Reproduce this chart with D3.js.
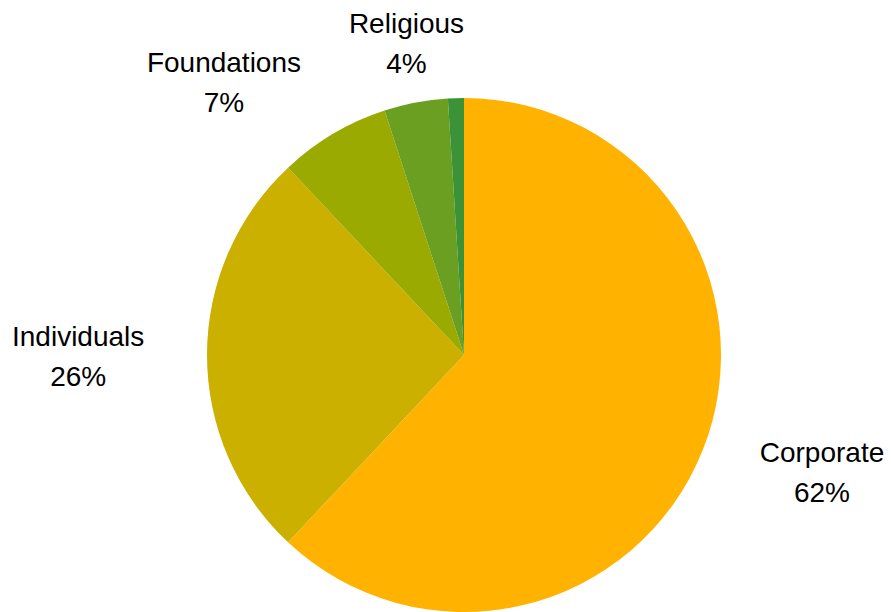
<!DOCTYPE html>
<html>
<head>
<meta charset="utf-8">
<script src="https://cdn.jsdelivr.net/npm/d3@7"></script>
<style>
html,body{margin:0;padding:0;background:#fff;}
svg{display:block;}
</style>
</head>
<body>
<svg id="chart" width="891" height="612"></svg>
<script>
const categories = ["Corporate", "Individuals", "Foundations", "Religious", "Other"];
const values = [62, 26, 7, 4, 1];
const percentLabels = ["62%", "26%", "7%", "4%", ""];
const colors = ["#FFB300", "#CCB000", "#9BAA00", "#6A9F22", "#3C9337"];

// label placement (angle shift in degrees, radius in px) relative to slice mid-angle
const labelLayout = {
  Corporate:   {shift: -2, r: 380},
  Individuals: {shift: -1.6, r: 386},
  Foundations: {shift: -11.8, r: 356},
  Religious:   {shift: 0, r: 307}
};

const W = 891, H = 612;
const cx = 464, cy = 355, R = 257;
const svg = d3.select("#chart");
const g = svg.append("g").attr("transform", `translate(${cx},${cy})`);

const data = categories.map((c, i) => ({cat: c, value: values[i], pct: percentLabels[i], color: colors[i]}));
const pie = d3.pie().sort(null).value(d => d.value);
const arc = d3.arc().innerRadius(0).outerRadius(R);
const arcs = pie(data);

g.selectAll("path.slice").data(arcs).enter().append("path")
  .attr("class", "slice")
  .attr("d", arc)
  .attr("fill", d => d.data.color);

const lbl = g.selectAll("g.lbl").data(arcs.filter(d => labelLayout[d.data.cat])).enter()
  .append("g").attr("class", "lbl")
  .attr("transform", d => {
    const L = labelLayout[d.data.cat];
    const a = (d.startAngle + d.endAngle) / 2 + L.shift * Math.PI / 180;
    return `translate(${Math.sin(a) * L.r},${-Math.cos(a) * L.r})`;
  });
lbl.append("text").attr("text-anchor", "middle").attr("y", -20)
  .style("font-family", "'Liberation Sans', Arial, sans-serif").style("font-size", "28px").attr("fill", "#000")
  .text(d => d.data.cat);
lbl.append("text").attr("text-anchor", "middle").attr("y", 20)
  .style("font-family", "'Liberation Sans', Arial, sans-serif").style("font-size", "28px").attr("fill", "#000")
  .text(d => d.data.pct);
</script>
</body>
</html>
